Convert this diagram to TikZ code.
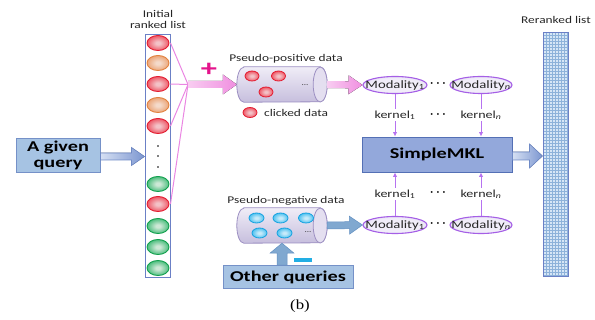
\documentclass[tikz,border=0pt]{standalone}
\usepackage{fontspec}
\setmainfont{Carlito}
\newfontfamily\lblfont[FakeStretch=1.3]{Carlito}
\newfontfamily\boxfont[FakeStretch=1.35]{Carlito}
\newfontfamily\capfont[FakeStretch=1.2]{Liberation Serif}
\usetikzlibrary{shapes.geometric,calc,patterns,arrows.meta}

% palette
\definecolor{txtgray}{HTML}{262626}
\definecolor{redin}{HTML}{F3C2C7}
\definecolor{redout}{HTML}{EC3446}
\definecolor{redrim}{HTML}{E31D31}
\definecolor{orangein}{HTML}{F4DACA}
\definecolor{orangeout}{HTML}{E8935C}
\definecolor{orangerim}{HTML}{E2823F}
\definecolor{greenin}{HTML}{CDE8D6}
\definecolor{greenout}{HTML}{20AF5F}
\definecolor{greenrim}{HTML}{12A04E}
\definecolor{cyanin}{HTML}{C8EBFA}
\definecolor{cyanout}{HTML}{26B3EC}
\definecolor{cyanrim}{HTML}{16A2E0}
\definecolor{modin}{HTML}{F1EDF9}
\definecolor{modout}{HTML}{BCAEE2}
\definecolor{modrim}{HTML}{A55FE6}
\definecolor{kpurple}{HTML}{B672F0}
\definecolor{listrim}{HTML}{6B80C6}
\definecolor{boxfill}{HTML}{A6C3E3}
\definecolor{boxrim}{HTML}{7591C8}
\definecolor{mklfill}{HTML}{93A8DB}
\definecolor{mklrim}{HTML}{5470B5}
\definecolor{gridfill}{HTML}{D6E6F6}
\definecolor{gridline}{HTML}{8DB2DA}
\definecolor{cyltop}{HTML}{F0EDF7}
\definecolor{cylbot}{HTML}{C6BEDD}
\definecolor{cylend}{HTML}{E4DFF0}
\definecolor{cylrim}{HTML}{9C8FC2}
\definecolor{pinkline}{HTML}{EA86E2}
\definecolor{pinklight}{HTML}{F8CDF1}
\definecolor{pinkdark}{HTML}{F08EE0}
\definecolor{bluelight}{HTML}{D6E0F3}
\definecolor{bluedark}{HTML}{7C96D0}
\definecolor{bluerim}{HTML}{6F8AC6}
\definecolor{steel}{HTML}{80A8D0}
\definecolor{steelrim}{HTML}{6390C2}
\definecolor{plusmag}{HTML}{E4148C}
\definecolor{minuscyan}{HTML}{22AEE4}

% soft radial shadings for the balls and ellipses
\pgfdeclareradialshading{ballred}{\pgfpoint{0bp}{0bp}}{color(0bp)=(redin); color(5bp)=(redin); color(32bp)=(redout); color(50bp)=(redout)}
\pgfdeclareradialshading{ballorange}{\pgfpoint{0bp}{0bp}}{color(0bp)=(orangein); color(5bp)=(orangein); color(32bp)=(orangeout); color(50bp)=(orangeout)}
\pgfdeclareradialshading{ballgreen}{\pgfpoint{0bp}{0bp}}{color(0bp)=(greenin); color(5bp)=(greenin); color(32bp)=(greenout); color(50bp)=(greenout)}
\pgfdeclareradialshading{ballcyan}{\pgfpoint{0bp}{0bp}}{color(0bp)=(cyanin); color(5bp)=(cyanin); color(32bp)=(cyanout); color(50bp)=(cyanout)}
\pgfdeclareradialshading{modshade}{\pgfpoint{0bp}{0bp}}{color(0bp)=(modin); color(20bp)=(modin); color(50bp)=(modout)}

% block arrow from #1 to #2: shaft half-width #3, head half-width #4, head length #5, style #6
\newcommand\fatarrow[6]{%
  \path ($(#2)!#5!(#1)$) coordinate (fa-h);
  \filldraw[#6] ($(#1)!#3!90:(#2)$) -- ($(fa-h)!#3!90:(#2)$) -- ($(fa-h)!#4!90:(#2)$) -- (#2)
    -- ($(fa-h)!#4!-90:(#2)$) -- ($(fa-h)!#3!-90:(#2)$) -- ($(#1)!#3!-90:(#2)$) -- cycle;}

% horizontal data cylinder around the rectangle node #1
\newcommand\drawcyl[1]{%
  \draw[draw=cylrim, line width=0.8pt, top color=cyltop, bottom color=cylbot]
    ($(#1.north west)+(7,0)$) -- ($(#1.north east)+(-7,0)$)
    arc[start angle=-90, end angle=90, x radius=7, y radius=17.5]
    -- ($(#1.south west)+(7,0)$)
    arc[start angle=90, end angle=270, x radius=7, y radius=17.5] -- cycle;
  \draw[draw=cylrim, line width=0.8pt, fill=cylend] ($(#1.east)+(-7,0)$) ellipse[x radius=7, y radius=17.5];}

\begin{document}
\begin{tikzpicture}[x=1pt, y=-1pt,
  lbl/.style={font=\lblfont\fontsize{10.3}{11.5}\selectfont, text=txtgray, inner sep=1pt},
  bigbox/.style={draw=boxrim, fill=boxfill, line width=0.9pt, inner sep=0pt, align=center,
    font=\boxfont\bfseries\fontsize{15}{16}\selectfont},
  ball/.style={ellipse, minimum width=22pt, minimum height=15pt, inner sep=0pt,
    shade, shading=ball#1, draw=#1rim, line width=0.9pt},
  dot/.style={ellipse, minimum width=14pt, minimum height=10pt, inner sep=0pt,
    shade, shading=ball#1, draw=#1rim, line width=0.8pt},
  modal/.style={ellipse, minimum width=64pt, minimum height=17pt, inner sep=0pt,
    shade, shading=modshade, draw=modrim, line width=1.1pt},
  modtext/.style={font=\lblfont\fontsize{11.3}{12}\selectfont, text=txtgray, inner sep=0pt},
  kernel/.style={draw=kpurple, line width=0.9pt, -{Latex[length=4.5pt, width=4.5pt]}},
  klabel/.style={lbl, font=\lblfont\fontsize{10.8}{12}\selectfont, fill=white, inner sep=1.5pt},
  ellip/.style={font=\fontsize{12}{12}\selectfont\boldmath, inner sep=0pt},
  pinkline/.style={draw=pinkline, line width=1pt},
  pinkarrow/.style={draw=none, left color=pinklight, right color=pinkdark},
  bluearrow/.style={draw=bluerim, line width=0.6pt, left color=bluelight, right color=bluedark},
  steelarrow/.style={draw=steelrim, line width=0.5pt, fill=steel},
]
\useasboundingbox (0,0) rectangle (595,320);

% ---------- initial ranked list ----------
\node[lbl, align=center] (ititle) at (158,19.5) {Initial\\ranked list};
\node[draw=listrim, line width=1pt, fill=white, minimum width=25pt, minimum height=243pt, inner sep=0pt]
  (ilist) at (157.5,156.5) {};
\foreach \i/\y/\c in {1/43/red, 2/63/orange, 3/84/red, 4/105/orange, 5/126/red,
                      6/184/green, 7/204/red, 8/226/green, 9/247/green, 10/268/green}
  \node[ball=\c] (b\i) at (158,\y) {};
\foreach \i/\y in {1/146, 2/156, 3/167}
  \fill (158,\y) coordinate (ldot\i) circle[radius=0.9];

% ---------- the query ----------
\node[bigbox, minimum width=84pt, minimum height=34pt] (query) at (58,155) {A given\\query};
\coordinate (qtip) at (ilist.west |- 0,156.5);
\coordinate (qtail) at (query.east |- 0,156.5);
\fatarrow{qtail}{qtip}{3.5pt}{9pt}{13pt}{bluearrow}

% ---------- pseudo-positive data ----------
\coordinate (conv) at (188,84.5);
\foreach \i in {1,3,5,7}
  \draw[pinkline] (ilist.east |- b\i) -- (conv);
\node[minimum width=90pt, minimum height=35pt, inner sep=0pt] (pos) at (282,84.5) {};
\fatarrow{conv}{pos.west}{3.5pt}{10pt}{14pt}{pinkarrow}
\node[font=\boxfont\bfseries\fontsize{24}{24}\selectfont, text=plusmag, inner sep=0pt] (plus) at (209,70) {+};
\drawcyl{pos}
\node[lbl] (postitle) at (286,59) {Pseudo-positive data};
\node[dot=red] (p1) at (252,76) {};
\node[dot=red] (p2) at (278.5,76) {};
\node[dot=red] (p3) at (266,92) {};
\node[lbl, font=\lblfont\fontsize{7}{7}\selectfont] (pdots) at (305,85) {...};
\node[dot=red] (legend) at (250,112.5) {};
\node[lbl, anchor=west] (clicked) at (263,113) {clicked data};

% ---------- pseudo-negative data ----------
\node[minimum width=90pt, minimum height=35pt, inner sep=0pt] (neg) at (282,225.5) {};
\drawcyl{neg}
\node[lbl] (negtitle) at (286,201) {Pseudo-negative data};
\node[dot=cyan, minimum width=15pt] (n1) at (256.5,218) {};
\node[dot=cyan, minimum width=15pt] (n2) at (280.5,218) {};
\node[dot=cyan, minimum width=15pt] (n3) at (306,218) {};
\node[dot=cyan, minimum width=15pt] (n4) at (259.5,233) {};
\node[dot=cyan, minimum width=15pt] (n5) at (284.5,233) {};
\node[lbl, font=\lblfont\fontsize{7}{7}\selectfont] (ndots) at (308,232) {...};

\node[bigbox, minimum width=130pt, minimum height=23pt] (other) at (288,277) {Other queries};
\coordinate (otail) at (other.north -| neg.south);
\fatarrow{otail}{neg.south}{5pt}{12pt}{10pt}{steelarrow}
\node[fill=minuscyan, minimum width=18pt, minimum height=4pt, inner sep=0pt] (minus) at (303,260) {};

% ---------- modalities, kernels and SimpleMKL ----------
\node[modal, label={[modtext]center:Modality\textsubscript{1}}] (m1t) at (395,85) {};
\node[modal, minimum width=62pt, label={[modtext]center:Modality\textsubscript{\itshape n}}] (mnt) at (481,85) {};
\node[modal, label={[modtext]center:Modality\textsubscript{1}}] (m1b) at (395,225) {};
\node[modal, minimum width=62pt, label={[modtext]center:Modality\textsubscript{\itshape n}}] (mnb) at (481,225) {};

\fatarrow{pos.east}{m1t.west}{3.5pt}{9.5pt}{14pt}{pinkarrow}
\fatarrow{neg.east}{m1b.west}{3.5pt}{9pt}{13pt}{steelarrow}

\node[draw=mklrim, fill=mklfill, line width=0.9pt, minimum width=150pt, minimum height=35pt, inner sep=0pt,
  font=\boxfont\bfseries\fontsize{15}{16}\selectfont] (mkl) at (437,154.5) {SimpleMKL};

\draw[kernel] (m1t.south) -- node[klabel] (k1t) {kernel\textsubscript{1}} (m1t.south |- mkl.north);
\draw[kernel] (mnt.south) -- node[klabel] (knt) {kernel\textsubscript{\itshape n}} (mnt.south |- mkl.north);
\draw[kernel] (m1b.north) -- node[klabel] (k1b) {kernel\textsubscript{1}} (m1b.north |- mkl.south);
\draw[kernel] (mnb.north) -- node[klabel] (knb) {kernel\textsubscript{\itshape n}} (mnb.north |- mkl.south);

\node[ellip] (e1) at (438,84) {$\cdots$};
\node[ellip] (e2) at (438,115) {$\cdots$};
\node[ellip] (e3) at (438,193) {$\cdots$};
\node[ellip] (e4) at (438,224) {$\cdots$};

% ---------- reranked list ----------
\node[lbl] (rtitle) at (556,20) {Reranked list};
\node[draw=listrim, line width=1pt, preaction={fill=gridfill}, pattern=grid, pattern color=gridline,
  minimum width=25pt, minimum height=244pt, inner sep=0pt] (rlist) at (555.5,155) {};
\coordinate (mtip) at (rlist.west |- 0,156);
\coordinate (mtail) at (mkl.east |- 0,156);
\fatarrow{mtail}{mtip}{4pt}{12pt}{13pt}{bluearrow}

% ---------- caption ----------
\node[font=\capfont\fontsize{14}{14}\selectfont, inner sep=0pt] (caption) at (300,306) {(b)};
\end{tikzpicture}
\end{document}
